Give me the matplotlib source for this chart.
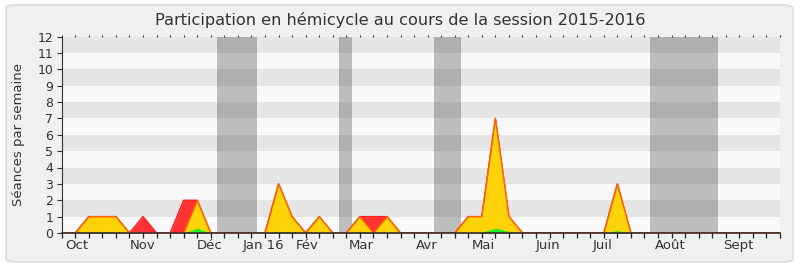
import numpy as np
import matplotlib
matplotlib.use("Agg")
import matplotlib.pyplot as plt
from matplotlib.patches import FancyBboxPatch

# weekly values, session 2015-2016 (54 week marks)
presence = [0, 0, 1, 1, 1, 0, 1, 0, 0, 2, 2, 0, 0, 0, 0, 0, 3, 1, 0, 1,
            0, 0, 1, 1, 1, 0, 0, 0, 0, 0, 1, 1, 7, 1, 0, 0, 0, 0, 0, 0,
            0, 3, 0, 0, 0, 0, 0, 0, 0, 0, 0, 0, 0, 0]
participation = [0, 0, 1, 1, 1, 0, 0, 0, 0, 0, 2, 0, 0, 0, 0, 0, 3, 1, 0, 1,
                 0, 0, 1, 0, 1, 0, 0, 0, 0, 0, 1, 1, 7, 1, 0, 0, 0, 0, 0, 0,
                 0, 3, 0, 0, 0, 0, 0, 0, 0, 0, 0, 0, 0, 0]
mots = [0, 0, 0.05, 0.1, 0.05, 0, 0, 0, 0, 0, 0.3, 0, 0, 0, 0, 0, 0.1, 0.08, 0, 0.05,
        0, 0, 0.1, 0, 0.05, 0, 0, 0, 0, 0, 0.05, 0.05, 0.3, 0.1, 0, 0, 0, 0, 0, 0,
        0, 0.15, 0, 0, 0, 0, 0, 0, 0, 0, 0, 0, 0, 0]

mois = ["Oct", "Nov", "Déc", "Jan 16", "Fév", "Mar", "Avr", "Mai", "Juin", "Juil", "Août", "Sept"]
mois_pos = [1.1, 6, 10.95, 14.85, 18.1, 22.1, 26.9, 31.1, 35.9, 39.9, 44.9, 49.95]

vacances = [(11.43, 14.44), (20.43, 21.44), (27.44, 29.47), (43.43, 48.44)]

x = np.arange(len(presence))
graduations = np.arange(0, 13)

fig = plt.figure(figsize=(8, 2.67), dpi=100)
fig.patch.set_facecolor("white")
cadre = FancyBboxPatch((6 / 800, 5 / 267), 787 / 800, 257 / 267,
                       boxstyle="round,pad=0,rounding_size=0.012",
                       transform=fig.transFigure, facecolor="#f0f0f0",
                       edgecolor="#dedede", lw=1.2, zorder=-10)
fig.add_artist(cadre)

rect = [61.7 / 800, 1 - 233 / 267, (780 - 61.7) / 800, (233 - 36.5) / 267]
ax = fig.add_axes(rect)
ax.set_facecolor("#f9f9f9")
ax.set_xlim(0, 53)
ax.set_ylim(0, 12)

# bandes horizontales
for y0 in range(1, 12, 2):
    ax.axhspan(y0, y0 + 1, color="#e5e5e5", lw=0, zorder=0)

# vacances parlementaires
for a, b in vacances:
    ax.axvspan(a, b, color="#343434", alpha=0.3, lw=0, zorder=1)

ax.fill_between(x, presence, color="#ff3333", lw=0, zorder=2)
ax.plot(x, presence, color="#ff1a1a", lw=1, zorder=2)
ax.fill_between(x, participation, color="#ffd20a", lw=0, zorder=3)
ax.plot(x, participation, color="#ff6000", lw=1, zorder=3)
ax.fill_between(x, mots, color="#22ee22", lw=0, zorder=4)

for s in ["top", "right"]:
    ax.spines[s].set_visible(False)
ax.spines["left"].set_color("#333333")
ax.spines["bottom"].set_color("#3a2a2a")
ax.spines["bottom"].set_linewidth(1.2)
ax.spines["bottom"].set_zorder(6)

# graduations dessinées à la main (bas et gauche)
ax.vlines(x, -0.025, 0, transform=ax.get_xaxis_transform(), colors="#222222",
          lw=0.9, clip_on=False, zorder=10)
ax.hlines(graduations, -0.007, 0, transform=ax.get_yaxis_transform(), colors="#333333",
          lw=0.8, clip_on=False, zorder=10)

ax.set_yticks(graduations)
ax.tick_params(axis="y", length=0, colors="#333333", labelsize=9, pad=6)

# petits repères hebdomadaires en haut
ax.set_xticks([])
ax.set_xticks(x, minor=True)
ax.tick_params(axis="x", which="minor", bottom=False, top=True, direction="out",
               length=1.5, width=0.8, color="#333333")

# noms des mois
for pos, nom in zip(mois_pos, mois):
    ax.text(pos, -0.03, nom, transform=ax.get_xaxis_transform(), ha="center", va="top",
            fontsize=9.5, color="#333333")

ax.set_ylabel("Séances par semaine", fontsize=9.5, color="#333333", labelpad=9)
fig.text(0.5, 0.925, "Participation en hémicycle au cours de la session 2015-2016",
         ha="center", va="center", fontsize=11.6, color="#333333")

fig.savefig("out.png", dpi=100, facecolor=fig.get_facecolor())
